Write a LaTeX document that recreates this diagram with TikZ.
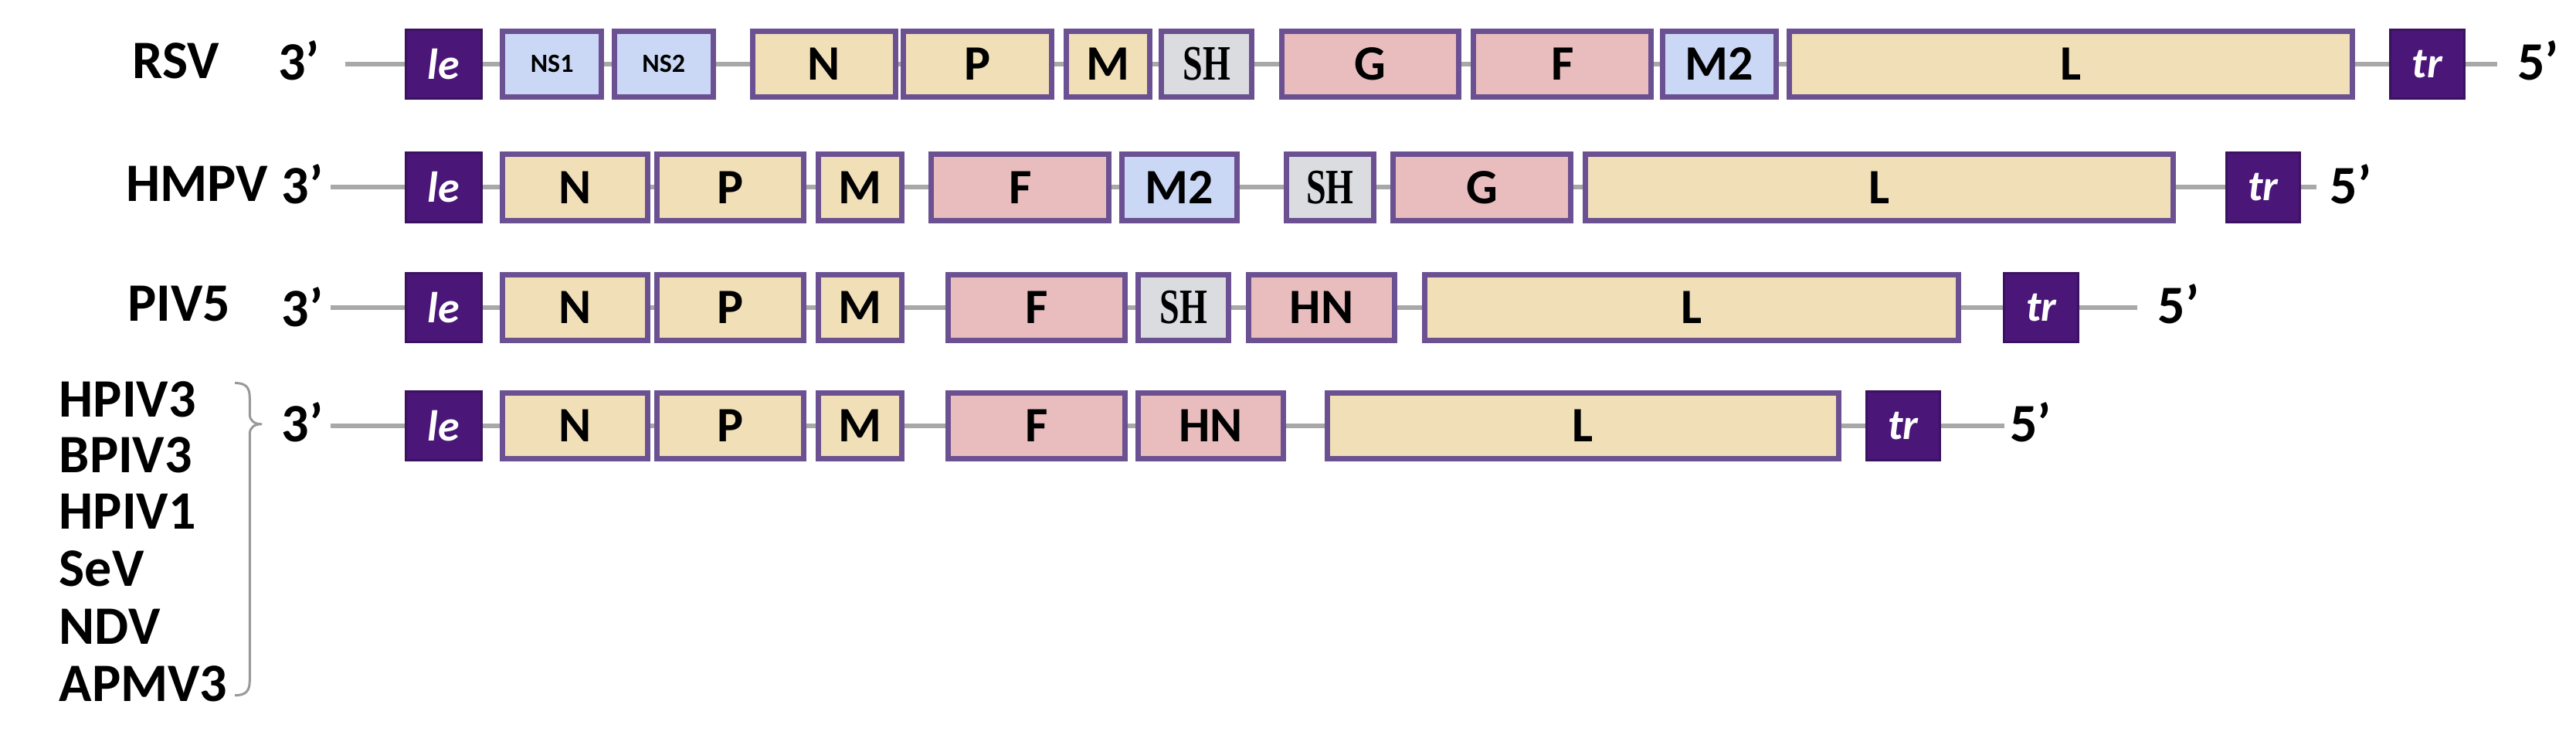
\documentclass[tikz,border=0pt]{standalone}
\usepackage{fontspec}
\setmainfont{Carlito}
\newfontfamily\shfont{Liberation Serif}
\definecolor{beige}{HTML}{F1DFB8}
\definecolor{pinkg}{HTML}{E9BDBE}
\definecolor{blueg}{HTML}{CAD8F6}
\definecolor{grayg}{HTML}{DADCE0}
\definecolor{purp}{HTML}{4A1677}
\definecolor{bord}{HTML}{6B5192}
\definecolor{bline}{HTML}{A8A8A8}
\tikzset{
 gbox/.style={draw=bord,line width=7pt,minimum height={40*2.127pt},inner sep=0pt,font=\fontsize{64}{68}\selectfont\bfseries},
 endbox/.style={fill=purp,draw=purp!80!black,line width=3pt,minimum height={42*2.127pt},inner sep=0pt,text=white,font=\fontsize{56}{60}\selectfont\bfseries\itshape},
 backbone/.style={draw=bline,line width=6pt},
 lab/.style={font=\fontsize{70}{74}\selectfont\bfseries,inner sep=0pt},
 smalllab/.style={font=\fontsize{34}{38}\selectfont\bfseries},
 shlab/.style={font=\fontsize{60}{64}\selectfont\shfont\bfseries}
}
\newcommand\gb[6]{\node[gbox,fill=#5,minimum width={(#3-#2)*2.127pt}] (#1) at ({(#2+#3)/2},#4) {#6};}
\newcommand\eb[5]{\node[endbox,minimum width={(#3-#2)*2.127pt}] (#1) at ({(#2+#3)/2},#4) {#5};}
\newcommand\shtxt{\scalebox{0.72}[1]{\shfont\bfseries SH}}
\begin{document}
\begin{tikzpicture}[x=2.127pt,y=-2.127pt]
\useasboundingbox[fill=white] (0,0) rectangle (1568,447);
% Row 1 RSV
\node[lab] (rsv) at (107,37) {RSV};
\node[lab] (r1a) at (182,37) {3’};
\node[lab] (r1b) at (1545,37) {5’};
\coordinate (r1s) at (210,39); \coordinate (r1e) at (1520,39);
\draw[backbone] (r1s) -- (r1e);
\eb{r1le}{247}{293}{39}{le}
\gb{r1ns1}{306}{366}{39}{blueg}{\fontsize{34}{38}\selectfont NS1}
\gb{r1ns2}{374}{434}{39}{blueg}{\fontsize{34}{38}\selectfont NS2}
\gb{r1n}{458}{545}{39}{beige}{N}
\gb{r1p}{550}{640}{39}{beige}{P}
\gb{r1m}{649}{700}{39}{beige}{M}
\gb{r1sh}{707}{762}{39}{grayg}{\shtxt}
\gb{r1g}{780}{888}{39}{pinkg}{G}
\gb{r1f}{897}{1005}{39}{pinkg}{F}
\gb{r1m2}{1012}{1081}{39}{blueg}{M2}
\gb{r1l}{1089}{1432}{39}{beige}{L}
\eb{r1tr}{1455}{1500}{39}{tr}
% Row 2 HMPV
\node[lab] (hmpv) at (120,112) {HMPV};
\node[lab] (r2a) at (184,112) {3’};
\node[lab] (r2b) at (1431,112) {5’};
\coordinate (r2s) at (201,114); \coordinate (r2e) at (1410,114);
\draw[backbone] (r2s) -- (r2e);
\eb{r2le}{247}{293}{114}{le}
\gb{r2n}{306}{394}{114}{beige}{N}
\gb{r2p}{400}{489}{114}{beige}{P}
\gb{r2m}{498}{549}{114}{beige}{M}
\gb{r2f}{567}{675}{114}{pinkg}{F}
\gb{r2m2}{683}{753}{114}{blueg}{M2}
\gb{r2sh}{783}{836}{114}{grayg}{\shtxt}
\gb{r2g}{848}{956}{114}{pinkg}{G}
\gb{r2l}{965}{1323}{114}{beige}{L}
\eb{r2tr}{1355}{1400}{114}{tr}
% Row 3 PIV5
\node[lab] (piv5) at (109,185) {PIV5};
\node[lab] (r3a) at (184,187) {3’};
\node[lab] (r3b) at (1326,185) {5’};
\coordinate (r3s) at (201,187); \coordinate (r3e) at (1301,187);
\draw[backbone] (r3s) -- (r3e);
\eb{r3le}{247}{293}{187}{le}
\gb{r3n}{306}{394}{187}{beige}{N}
\gb{r3p}{400}{489}{187}{beige}{P}
\gb{r3m}{498}{549}{187}{beige}{M}
\gb{r3f}{577}{685}{187}{pinkg}{F}
\gb{r3sh}{693}{748}{187}{grayg}{\shtxt}
\gb{r3hn}{760}{849}{187}{pinkg}{HN}
\gb{r3l}{867}{1192}{187}{beige}{L}
\eb{r3tr}{1220}{1265}{187}{tr}
% Row 4
\node[lab] (r4a) at (184,257) {3’};
\node[lab] (r4b) at (1236,257) {5’};
\coordinate (r4s) at (201,259); \coordinate (r4e) at (1220,259);
\draw[backbone] (r4s) -- (r4e);
\eb{r4le}{247}{293}{259}{le}
\gb{r4n}{306}{394}{259}{beige}{N}
\gb{r4p}{400}{489}{259}{beige}{P}
\gb{r4m}{498}{549}{259}{beige}{M}
\gb{r4f}{577}{685}{259}{pinkg}{F}
\gb{r4hn}{693}{781}{259}{pinkg}{HN}
\gb{r4l}{808}{1119}{259}{beige}{L}
\eb{r4tr}{1136}{1181}{259}{tr}
% list
\foreach \t/\yy/\nm in {HPIV3/243/v1,BPIV3/277/v2,HPIV1/311/v3,SeV/346/v4,NDV/381/v5,APMV3/416/v6}
  \node[lab,anchor=west] (\nm) at (36,\yy) {\t};
% brace
\draw[draw=gray!80,line width=3pt,line join=round]
 (143,233) .. controls (150,233) and (152,236) .. (152,242)
 -- (152,252) .. controls (152,256) and (155,258) .. (159,258)
 .. controls (155,258) and (152,260) .. (152,264)
 -- (152,414) .. controls (152,420) and (150,423) .. (143,423);
\end{tikzpicture}
\end{document}
